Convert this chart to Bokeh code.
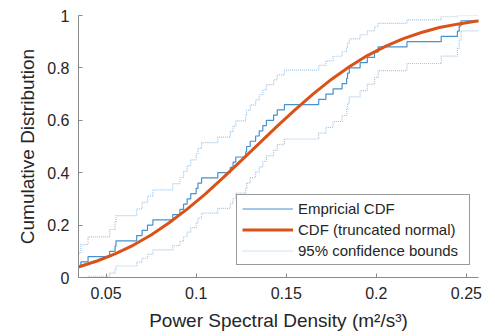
from bokeh.plotting import figure
from bokeh.models import Range1d, FixedTicker, CustomJSTickFormatter, Legend, LegendItem
from bokeh.embed import file_html
from bokeh.resources import INLINE

# ---- data ----
samples = [0.030, 0.034, 0.036, 0.040, 0.052, 0.055, 0.0555, 0.067, 0.070, 0.073,
           0.076, 0.087, 0.091, 0.093, 0.095, 0.097, 0.100, 0.101, 0.103, 0.112,
           0.119, 0.1205, 0.122, 0.1275, 0.128, 0.130, 0.133, 0.135, 0.137, 0.139,
           0.143, 0.145, 0.149, 0.168, 0.172, 0.176, 0.181, 0.1835, 0.184, 0.185,
           0.191, 0.195, 0.199, 0.201, 0.217, 0.236, 0.245, 0.246, 0.247, 0.265]
ecdf_y = [0.02, 0.04, 0.06, 0.08, 0.10, 0.12, 0.14, 0.16, 0.18, 0.20,
          0.22, 0.24, 0.26, 0.28, 0.30, 0.32, 0.34, 0.36, 0.38, 0.40,
          0.42, 0.44, 0.46, 0.48, 0.50, 0.52, 0.54, 0.56, 0.58, 0.60,
          0.62, 0.64, 0.66, 0.68, 0.70, 0.72, 0.74, 0.76, 0.78, 0.80,
          0.82, 0.84, 0.86, 0.88, 0.90, 0.92, 0.94, 0.96, 0.98, 1.00]
lower_y = [0.0, 0.0, 0.0, 0.0048, 0.0168, 0.0299, 0.0438, 0.0584, 0.0735, 0.0891,
           0.1052, 0.1216, 0.1384, 0.1555, 0.1730, 0.1907, 0.2087, 0.2269, 0.2455, 0.2642,
           0.2832, 0.3024, 0.3219, 0.3415, 0.3614, 0.3815, 0.4019, 0.4224, 0.4432, 0.4642,
           0.4855, 0.5069, 0.5287, 0.5507, 0.5730, 0.5955, 0.6184, 0.6416, 0.6652, 0.6891,
           0.7135, 0.7384, 0.7638, 0.7899, 0.8168, 0.8448, 0.8742, 0.9057, 0.9412, 1.0]
upper_y = [0.0588, 0.0943, 0.1258, 0.1552, 0.1832, 0.2101, 0.2362, 0.2616, 0.2865, 0.3109,
           0.3348, 0.3584, 0.3816, 0.4045, 0.4270, 0.4493, 0.4713, 0.4931, 0.5145, 0.5358,
           0.5568, 0.5776, 0.5981, 0.6185, 0.6386, 0.6585, 0.6781, 0.6976, 0.7168, 0.7358,
           0.7545, 0.7731, 0.7913, 0.8093, 0.8270, 0.8445, 0.8616, 0.8784, 0.8948, 0.9109,
           0.9265, 0.9416, 0.9562, 0.9701, 0.9832, 0.9952, 1.0, 1.0, 1.0, 1.0]
fit_x = [0.025, 0.035, 0.045, 0.055, 0.065, 0.075, 0.085, 0.095, 0.105, 0.115,
         0.125, 0.135, 0.145, 0.155, 0.165, 0.175, 0.185, 0.195, 0.205, 0.215,
         0.225, 0.235, 0.245, 0.255, 0.265]
fit_y = [0.025, 0.041, 0.063, 0.090, 0.123, 0.162, 0.209, 0.261, 0.318, 0.381,
         0.446, 0.512, 0.578, 0.641, 0.701, 0.756, 0.804, 0.847, 0.882, 0.912,
         0.935, 0.954, 0.967, 0.978, 0.985]
x_ticks = [0.05, 0.1, 0.15, 0.2, 0.25]
y_ticks = [0, 0.2, 0.4, 0.6, 0.8, 1]

FONT = "Liberation Sans"
TXT = "#262626"

p = figure(frame_width=400, frame_height=262,
           min_border_left=78, min_border_right=17, min_border_top=15, min_border_bottom=59,
           x_range=Range1d(0.0347, 0.2567), y_range=Range1d(0, 1),
           output_backend="svg", toolbar_location=None, background_fill_color="white")
p.outline_line_color = None
p.grid.visible = False

r_lo = p.step(samples, lower_y, mode="after", line_color="#9fc7ea", line_width=1.2, line_dash="1 1")
r_hi = p.step(samples, upper_y, mode="after", line_color="#9fc7ea", line_width=1.2, line_dash="1 1")
r_e = p.step(samples, ecdf_y, mode="after", line_color="#4592d3", line_width=1.2)
r_f = p.line(fit_x, fit_y, line_color="#D95319", line_width=3)

fmt = CustomJSTickFormatter(code="return String(parseFloat(tick.toFixed(4)));")
for ax, ticks in ((p.xaxis[0], x_ticks), (p.yaxis[0], y_ticks)):
    ax.ticker = FixedTicker(ticks=ticks)
    ax.formatter = fmt
    ax.minor_tick_line_color = None
    ax.major_tick_in = 4
    ax.major_tick_out = 0
    ax.axis_line_color = "#8a8a8a"
    ax.major_tick_line_color = "#8a8a8a"
    ax.major_label_text_font = FONT
    ax.major_label_text_font_size = "16px"
    ax.major_label_text_color = TXT
    ax.major_label_standoff = 9
    ax.axis_label_text_font = FONT
    ax.axis_label_text_font_size = "19px"
    ax.axis_label_text_font_style = "normal"
    ax.axis_label_text_color = TXT

p.xaxis[0].axis_label = "Power Spectral Density (m²/s³)"
p.xaxis[0].axis_label_standoff = 8
p.yaxis[0].axis_label = "Cumulative Distribution"
p.yaxis[0].axis_label_standoff = 6

legend = Legend(items=[LegendItem(label="Empricial CDF", renderers=[r_e]),
                       LegendItem(label="CDF (truncated normal)", renderers=[r_f]),
                       LegendItem(label="95% confidence bounds", renderers=[r_lo])],
                location=(158, 12), orientation="vertical",
                padding=5, spacing=4, margin=0,
                glyph_width=51, glyph_height=15, label_height=15, label_width=166,
                label_standoff=5,
                label_text_font=FONT, label_text_font_size="15px", label_text_color=TXT,
                border_line_color="#333333", border_line_width=1,
                background_fill_color="white", background_fill_alpha=1.0)
p.add_layout(legend)

open("out.html", "w").write(file_html(p, INLINE))
